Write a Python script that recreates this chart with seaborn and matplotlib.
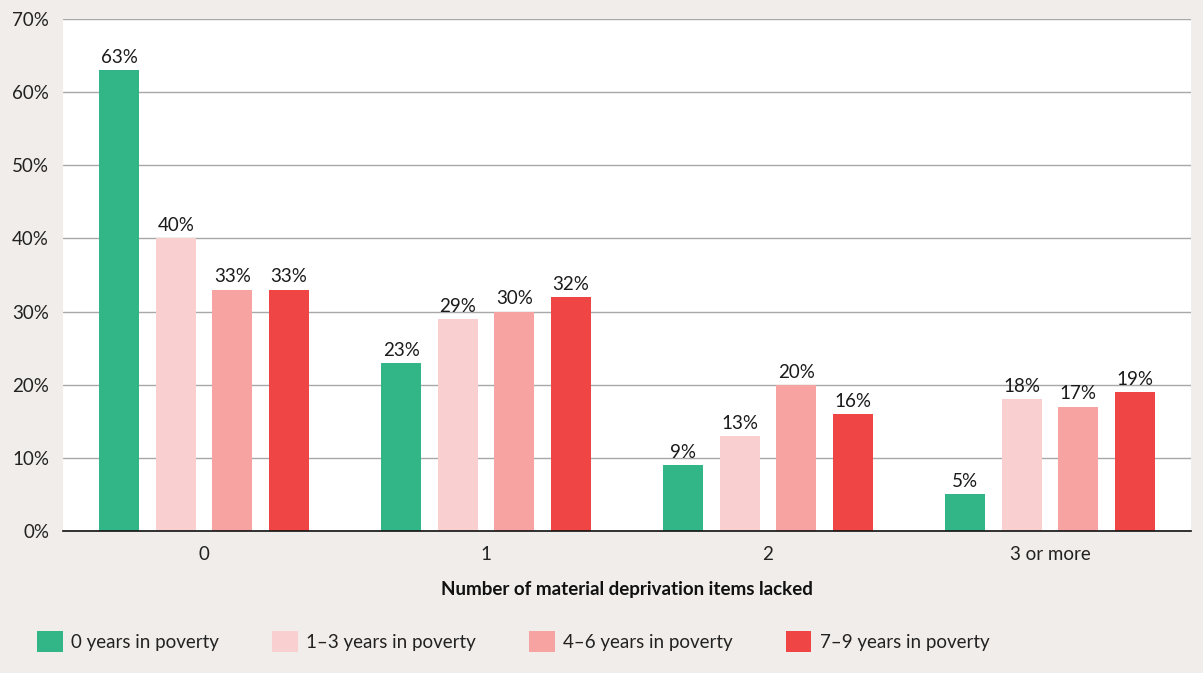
import matplotlib
matplotlib.use("Agg")
import matplotlib.pyplot as plt
from matplotlib.patches import Patch
import seaborn as sns
import pandas as pd

categories = ["0", "1", "2", "3 or more"]
series_names = ["0 years in poverty", "1\u20133 years in poverty",
                "4\u20136 years in poverty", "7\u20139 years in poverty"]
values_0y = [63, 23, 9, 5]
values_1_3y = [40, 29, 13, 18]
values_4_6y = [33, 30, 20, 17]
values_7_9y = [33, 32, 16, 19]
colors = ["#32b688", "#f9cfd0", "#f6a3a2", "#ef4545"]

rows = []
for name, vals in zip(series_names, [values_0y, values_1_3y, values_4_6y, values_7_9y]):
    for cat, v in zip(categories, vals):
        rows.append({"items": cat, "group": name, "share": v})
df = pd.DataFrame(rows)

sns.set_theme(style="white")
plt.rcParams["font.family"] = ["Lato", "DejaVu Sans"]

bg = "#f1edea"
fs = 13.5
fig = plt.figure(figsize=(12.03, 6.73), dpi=100, facecolor=bg)
ax = fig.add_axes([63 / 1203, 1 - 531 / 673, (1191 - 63) / 1203, (531 - 19) / 673])
ax.set_facecolor("white")

sns.barplot(data=df, x="items", y="share", hue="group", order=categories,
            hue_order=series_names, palette=colors, width=0.8, gap=0.29,
            saturation=1, ax=ax, legend=False, linewidth=0)

for container in ax.containers:
    ax.bar_label(container, labels=[f"{int(round(b.get_height()))}%" for b in container],
                 padding=3, fontsize=fs, color="#1a1a1a")

ax.set_ylim(0, 70)
ax.set_xlim(-0.5, 3.5)
ax.set_yticks(range(0, 71, 10))
ax.set_yticklabels([f"{t}%" for t in range(0, 71, 10)], fontsize=fs, color="#222222")
ax.tick_params(axis="x", labelsize=fs, colors="#222222", length=0, pad=11)
ax.tick_params(axis="y", length=0, pad=10)
ax.yaxis.grid(True, color="#a8a8a8", linewidth=1)
ax.set_axisbelow(True)
for s in ["top", "right", "left"]:
    ax.spines[s].set_visible(False)
ax.spines["bottom"].set_color("#111111")
ax.spines["bottom"].set_linewidth(1.2)
ax.set_ylabel("")
ax.set_xlabel("Number of material deprivation items lacked", fontsize=fs,
              fontweight="bold", color="#111111", labelpad=13)

handles = [Patch(facecolor=c, edgecolor="none") for c in colors]
fig.legend(handles, series_names, loc="center left", bbox_to_anchor=(0.017, 0.047),
           ncol=4, frameon=False, fontsize=fs, handlelength=1.35, handleheight=1.35,
           handletextpad=0.45, columnspacing=2.85, labelcolor="#222222")

fig.savefig("out.png", dpi=100, facecolor=bg)
